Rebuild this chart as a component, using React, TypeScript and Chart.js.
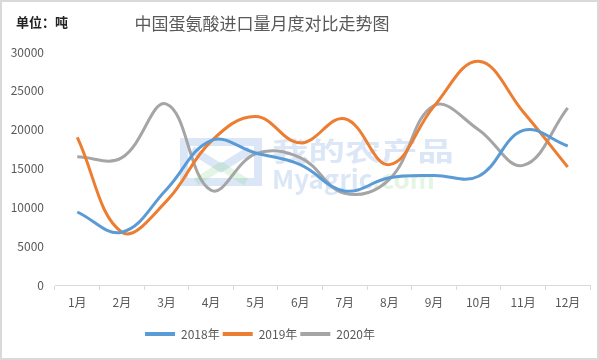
import { useEffect, useRef } from "react";
import { Chart, registerables } from "chart.js";

Chart.register(...registerables);

const months = ["1月", "2月", "3月", "4月", "5月", "6月", "7月", "8月", "9月", "10月", "11月", "12月"];
const s2018 = [9400, 6800, 12300, 18600, 17000, 15500, 12100, 13800, 14100, 14000, 19900, 17900];
const s2019 = [19000, 6800, 10800, 18500, 21700, 18300, 21400, 15500, 23000, 28800, 22300, 15200];
const s2020 = [16500, 16400, 23300, 12200, 16900, 16400, 11800, 13600, 23100, 20000, 15400, 22800];
const seriesNames = ["2018年", "2019年", "2020年"];
const seriesColors = ["#5B9BD5", "#ED7D31", "#A5A5A5"];
const titleText = "中国蛋氨酸进口量月度对比走势图";
const unitText = "单位：吨";
const yMax = 30000;
const yStep = 5000;

const FONT = '"Noto Sans CJK SC", "Noto Sans", sans-serif';

export default function App() {
  const ref = useRef<HTMLCanvasElement>(null);

  useEffect(() => {
    document.body.style.margin = "0";
    const canvas = ref.current;
    if (!canvas) return;

    const decor = {
      id: "decor",
      beforeDraw(chart: any) {
        const ctx = chart.ctx;
        ctx.save();
        ctx.fillStyle = "#ffffff";
        ctx.fillRect(0, 0, chart.width, chart.height);
        ctx.strokeStyle = "#d9d9d9";
        ctx.lineWidth = 2;
        ctx.strokeRect(1, 1, chart.width - 2, chart.height - 2);
        ctx.restore();
      },
      afterLayout(chart: any) {
        const lg = chart.legend;
        if (lg) {
          lg.left = 8;
          lg.right = 512;
        }
      },
      beforeDatasetsDraw(chart: any) {
        const ctx = chart.ctx;
        ctx.save();
        ctx.globalAlpha = 0.22;
        ctx.strokeStyle = "#5B8FD9";
        ctx.lineWidth = 8;
        ctx.strokeRect(184, 142, 74, 40);
        ctx.beginPath();
        ctx.moveTo(192, 150);
        ctx.lineTo(221, 168);
        ctx.lineTo(250, 150);
        ctx.stroke();
        ctx.strokeStyle = "#7FD17F";
        ctx.beginPath();
        ctx.moveTo(196, 182);
        ctx.lineTo(221, 166);
        ctx.lineTo(246, 182);
        ctx.stroke();
        ctx.fillStyle = "#5B8FD9";
        ctx.font = `bold 28px ${FONT}`;
        ctx.textBaseline = "middle";
        ctx.textAlign = "left";
        ctx.save();
        ctx.translate(272, 151);
        ctx.scale(1.3, 0.95);
        ctx.fillText("我的农产品", 0, 0);
        ctx.restore();
        ctx.font = `bold 26px ${FONT}`;
        ctx.fillText("Myagric", 272, 179);
        const w = ctx.measureText("Myagric").width;
        ctx.fillStyle = "#7FD17F";
        ctx.fillText(".com", 272 + w, 179);
        ctx.restore();
      },
      afterDraw(chart: any) {
        const ctx = chart.ctx;
        ctx.save();
        ctx.textBaseline = "middle";
        ctx.textAlign = "center";
        ctx.fillStyle = "#595959";
        ctx.font = `17px ${FONT}`;
        ctx.fillText(titleText, 262, 24);
        ctx.textAlign = "left";
        ctx.fillStyle = "#222222";
        ctx.font = `bold 13px ${FONT}`;
        ctx.fillText(unitText, 16, 22);
        ctx.restore();
      },
    };

    const data = [s2018, s2019, s2020];
    const chart = new Chart(canvas, {
      type: "line",
      data: {
        labels: months,
        datasets: data.map((d, i) => ({
          label: seriesNames[i],
          data: d,
          borderColor: seriesColors[i],
          backgroundColor: seriesColors[i],
          borderWidth: 3,
          pointRadius: 0,
          pointHoverRadius: 0,
          tension: 0.4,
          fill: false,
        })),
      },
      options: {
        responsive: false,
        animation: false,
        events: [],
        layout: { padding: { left: 8, right: 9, top: 52, bottom: 10 } },
        scales: {
          x: {
            offset: true,
            grid: {
              offset: true,
              drawOnChartArea: false,
              drawTicks: true,
              tickLength: 5,
              color: "#d9d9d9",
            },
            border: { color: "#d9d9d9" },
            ticks: {
              color: "#595959",
              font: { family: FONT, size: 12 },
              padding: 5,
              maxRotation: 0,
              autoSkip: false,
            },
            afterFit(s: any) {
              s.height = 40;
            },
          },
          y: {
            min: 0,
            max: yMax,
            ticks: {
              stepSize: yStep,
              color: "#595959",
              font: { family: FONT, size: 12 },
              padding: 11,
              callback: (v: any) => String(v),
            },
            grid: { display: false, drawTicks: false },
            border: { display: false },
            afterFit(s: any) {
              s.width = 47;
            },
          },
        },
        plugins: {
          title: { display: false },
          tooltip: { enabled: false },
          legend: {
            display: true,
            position: "bottom",
            labels: {
              boxWidth: 30,
              boxHeight: 4,
              padding: 3,
              color: "#595959",
              font: { family: FONT, size: 12 },
              generateLabels(c: any) {
                const items = Chart.defaults.plugins.legend.labels.generateLabels(c);
                return items.map((it: any) => ({ ...it, lineWidth: 0 }));
              },
            },
          },
        },
      },
      plugins: [decor],
    } as any);

    return () => chart.destroy();
  }, []);

  return (
    <div style={{ position: "absolute", left: 0, top: 0, width: 599, height: 360 }}>
      <canvas ref={ref} width={599} height={360} style={{ display: "block" }} />
    </div>
  );
}
